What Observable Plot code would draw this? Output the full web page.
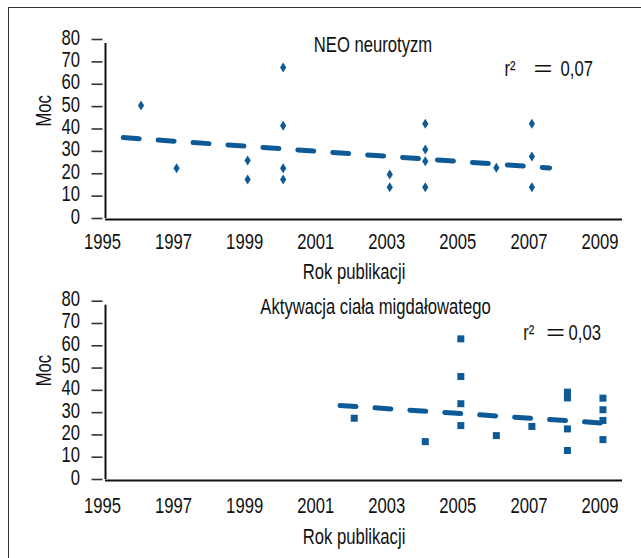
<!DOCTYPE html>
<html>
<head>
<meta charset="utf-8">
<script src="https://cdn.jsdelivr.net/npm/d3@7"></script>
<script src="https://cdn.jsdelivr.net/npm/@observablehq/plot@0.6"></script>
<style>
  html, body { margin: 0; padding: 0; background: #fff; }
  #wrap { position: relative; width: 641px; height: 558px; overflow: hidden; background: #fff; }
  #frame { position: absolute; left: 8px; top: 7px; width: 700px; height: 600px; border-left: 1.3px solid #333; border-top: 1.3px solid #333; box-sizing: border-box; }
  #top, #bottom { position: absolute; left: 0; }
  #top { top: 0; }
  #bottom { top: 280px; }
  svg { overflow: visible; }
</style>
</head>
<body>
<div id="wrap">
  <div id="frame"></div>
  <div id="top"></div>
  <div id="bottom"></div>
</div>
<script>
// ---- Data ----
const xTicks = [1995, 1997, 1999, 2001, 2003, 2005, 2007, 2009];
const yTicks = [0, 10, 20, 30, 40, 50, 60, 70, 80];

// Panel 1: NEO neurotyzm
const neoYear  = [1996, 1997, 1999, 1999, 2000, 2000, 2000, 2000, 2003, 2003, 2004, 2004, 2004, 2004, 2006, 2007, 2007, 2007];
const neoPower = [50.5, 22.5, 25.9, 17.4, 67.5, 41.4, 22.5, 17.4, 19.7, 14.0, 42.3, 30.8, 25.6, 14.0, 22.7, 42.3, 27.7, 14.0];
const neoTrendYear  = [1995.5, 2007.5];
const neoTrendPower = [36.2, 22.6];

// Panel 2: Aktywacja ciała migdałowatego
const amyYear  = [2002, 2004, 2005, 2005, 2005, 2005, 2006, 2007, 2008, 2008, 2008, 2008, 2009, 2009, 2009, 2009];
const amyPower = [27.5, 17.0, 63.1, 46.2, 34.0, 24.2, 19.7, 23.8, 39.2, 36.6, 22.7, 13.0, 36.5, 31.3, 26.5, 17.9];
const amyTrendYear  = [2001.6, 2009.3];
const amyTrendPower = [33.2, 25.0];

const titles = ["NEO neurotyzm", "Aktywacja ciała migdałowatego"];
const r2Values = ["0,07", "0,03"];
const xLabel = "Rok publikacji";
const yLabel = "Moc";

// ---- Styling ----
const blue = "#0d5a97";
const font = "'Liberation Sans', Arial, sans-serif";
const SX = 0.74;   // horizontal condensing of text

const tallDiamond = {
  draw(ctx, size) {
    const r = Math.sqrt(size / Math.PI);
    ctx.moveTo(0, -r);
    ctx.lineTo(r * 0.62, 0);
    ctx.lineTo(0, r);
    ctx.lineTo(-r * 0.62, 0);
    ctx.closePath();
  }
};
const squareSym = {
  draw(ctx, size) {
    const r = Math.sqrt(size / Math.PI);
    ctx.rect(-r, -r, 2 * r, 2 * r);
  }
};

function panel({years, powers, trendYears, trendPowers, title, r2, symbol, r,
                height, marginTop, marginBottom, titleDx, titleDy, r2x, r2Dy, mocDy, xPad, xLabDy}) {
  const pts = years.map((y, i) => ({year: y, power: powers[i]}));
  const trend = trendYears.map((y, i) => ({year: y, power: trendPowers[i]}));
  const txt = {text: d => d, fill: "#111", lineAnchor: "middle"};
  return Plot.plot({
    width: 641,
    height,
    marginLeft: 105,
    marginRight: 19,
    marginTop,
    marginBottom,
    x: {domain: [1995, 2009.55], axis: null},
    y: {domain: [0, 80], axis: null},
    style: {fontFamily: font, fontSize: "22.5px", color: "#111", background: "transparent", overflow: "visible"},
    marks: [
      // y tick marks
      Plot.axisY({ticks: yTicks, tickSize: 11, dx: -2.5, label: null,
                  stroke: "#333", strokeWidth: 1.6, tickFormat: () => ""}),
      // y tick labels
      Plot.axisY({ticks: yTicks, tickSize: 0, tickPadding: 25.5, dy: -2.2, label: null,
                  fill: "#111", tickFormat: d => String(d)}),
      // x tick labels
      Plot.axisX({ticks: xTicks, tickSize: 0, tickPadding: xPad, dx: -3, label: null,
                  fill: "#111", tickFormat: d => String(d)}),
      Plot.ruleX([1995], {y1: 0, y2: 80, stroke: "#111", strokeWidth: 2, insetBottom: -4}),
      Plot.ruleY([0], {x1: 1995, x2: 2009.55, stroke: "#111", strokeWidth: 2, dy: 1}),
      Plot.line(trend, {x: "year", y: "power", stroke: blue, strokeWidth: 5,
                        strokeDasharray: "16 19", strokeLinecap: "round"}),
      Plot.dot(pts, {x: "year", y: "power", symbol, r, fill: blue, stroke: "none"}),
      Plot.text([title], {...txt, frameAnchor: "top", dx: titleDx, dy: titleDy}),
      Plot.text(["r²"], {...txt, frameAnchor: "top-left", dx: r2x[0] - 105, dy: r2Dy, textAnchor: "start"}),
      Plot.text(["="], {...txt, frameAnchor: "top-left", dx: r2x[1] - 105, dy: r2Dy, textAnchor: "middle"}),
      Plot.text([r2], {...txt, frameAnchor: "top-left", dx: r2x[2] - 105, dy: r2Dy, textAnchor: "start"}),
      Plot.text([yLabel], {...txt, frameAnchor: "left", dx: -62, dy: mocDy, rotate: -90}),
      Plot.text([xLabel], {...txt, frameAnchor: "bottom", dx: -10, dy: xLabDy})
    ]
  });
}

// condense all text horizontally (the reference uses a narrow, tall typeface)
function condense(svg) {
  svg.querySelectorAll("text").forEach(el => {
    const t = el.getAttribute("transform") || "";
    const s = el.textContent === "=" ? "1.45,1" : `${SX},1`;
    el.setAttribute("transform", `${t} scale(${s})`);
  });
  return svg;
}

document.getElementById("top").append(condense(panel({
  years: neoYear, powers: neoPower, trendYears: neoTrendYear, trendPowers: neoTrendPower,
  title: titles[0], r2: r2Values[0], symbol: tallDiamond, r: 5,
  height: 280, marginTop: 39, marginBottom: 62, titleDx: 9, titleDy: 5.2,
  r2x: [504, 542.5, 560], r2Dy: 29.7, mocDy: -2.5, xPad: 14.7, xLabDy: 53.5
})));

document.getElementById("bottom").append(condense(panel({
  years: amyYear, powers: amyPower, trendYears: amyTrendYear, trendPowers: amyTrendPower,
  title: titles[1], r2: r2Values[1], symbol: squareSym, r: 3.5,
  height: 278, marginTop: 20.7, marginBottom: 79, titleDx: 11.5, titleDy: 5.2,
  r2x: [522.7, 555, 568], r2Dy: 31.7, mocDy: -4, xPad: 18, xLabDy: 56.8
})));
</script>
</body>
</html>
